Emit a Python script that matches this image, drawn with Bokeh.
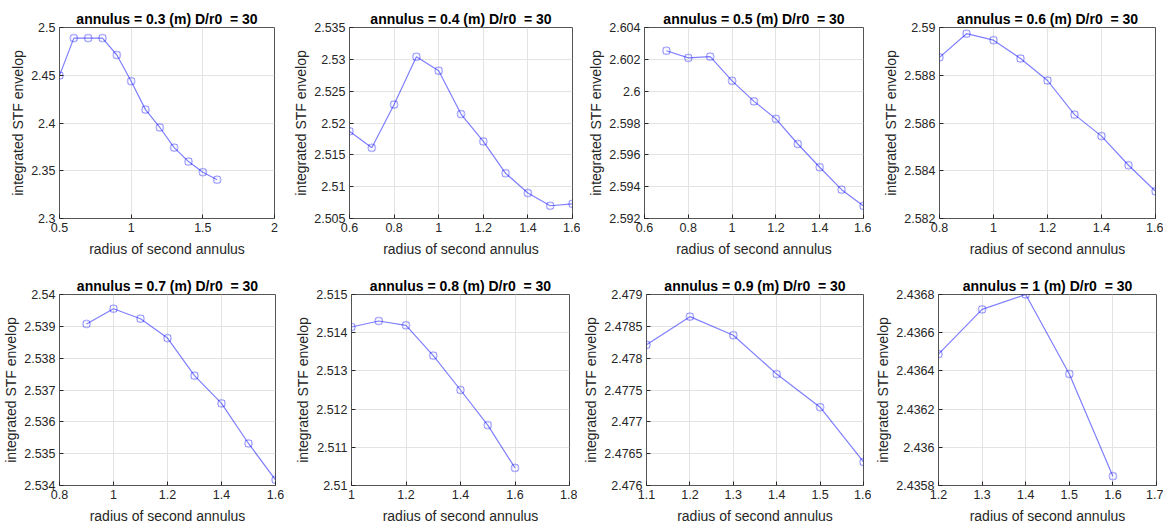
from bokeh.plotting import figure
from bokeh.models import FixedTicker, CustomJSTickFormatter, Range1d
from bokeh.layouts import row, column
from bokeh.embed import file_html
from bokeh.resources import INLINE

# ---------------- data ----------------
annulus = ["0.3", "0.4", "0.5", "0.6", "0.7", "0.8", "0.9", "1"]

x_03 = [0.5, 0.6, 0.7, 0.8, 0.9, 1.0, 1.1, 1.2, 1.3, 1.4, 1.5, 1.6]
y_03 = [2.4497, 2.4889, 2.4889, 2.4889, 2.4712, 2.4438, 2.4140, 2.3953, 2.3742, 2.3596, 2.3485, 2.3406]

x_04 = [0.6, 0.7, 0.8, 0.9, 1.0, 1.1, 1.2, 1.3, 1.4, 1.5, 1.6]
y_04 = [2.5187, 2.5161, 2.5229, 2.5304, 2.5282, 2.5214, 2.5171, 2.5121, 2.5090, 2.5070, 2.5073]

x_05 = [0.7, 0.8, 0.9, 1.0, 1.1, 1.2, 1.3, 1.4, 1.5, 1.6]
y_05 = [2.60254, 2.60209, 2.60217, 2.60065, 2.59936, 2.59826, 2.59668, 2.59522, 2.59381, 2.59279]

x_06 = [0.8, 0.9, 1.0, 1.1, 1.2, 1.3, 1.4, 1.5, 1.6]
y_06 = [2.58875, 2.58974, 2.58947, 2.58870, 2.58778, 2.58635, 2.58545, 2.58423, 2.58314]

x_07 = [0.9, 1.0, 1.1, 1.2, 1.3, 1.4, 1.5, 1.6]
y_07 = [2.539075, 2.539553, 2.539240, 2.538630, 2.537450, 2.536580, 2.535320, 2.534180]

x_08 = [1.0, 1.1, 1.2, 1.3, 1.4, 1.5, 1.6]
y_08 = [2.514150, 2.514307, 2.514194, 2.513400, 2.512500, 2.511580, 2.510460]

x_09 = [1.1, 1.2, 1.3, 1.4, 1.5, 1.6]
y_09 = [2.478210, 2.478652, 2.478360, 2.477750, 2.477230, 2.476370]

x_10 = [1.2, 1.3, 1.4, 1.5, 1.6]
y_10 = [2.436488, 2.436722, 2.436800, 2.436384, 2.435849]

# tick labels / axis limits
xticks_03 = [0.5, 1.0, 1.5, 2.0]
xticks_04 = [0.6, 0.8, 1.0, 1.2, 1.4, 1.6]
xticks_05 = [0.6, 0.8, 1.0, 1.2, 1.4, 1.6]
xticks_06 = [0.8, 1.0, 1.2, 1.4, 1.6]
xticks_07 = [0.8, 1.0, 1.2, 1.4, 1.6]
xticks_08 = [1.0, 1.2, 1.4, 1.6, 1.8]
xticks_09 = [1.1, 1.2, 1.3, 1.4, 1.5, 1.6]
xticks_10 = [1.2, 1.3, 1.4, 1.5, 1.6, 1.7]

yticks_03 = [2.3, 2.35, 2.4, 2.45, 2.5]
yticks_04 = [2.505, 2.51, 2.515, 2.52, 2.525, 2.53, 2.535]
yticks_05 = [2.592, 2.594, 2.596, 2.598, 2.6, 2.602, 2.604]
yticks_06 = [2.582, 2.584, 2.586, 2.588, 2.59]
yticks_07 = [2.534, 2.535, 2.536, 2.537, 2.538, 2.539, 2.54]
yticks_08 = [2.51, 2.511, 2.512, 2.513, 2.514, 2.515]
yticks_09 = [2.476, 2.4765, 2.477, 2.4775, 2.478, 2.4785, 2.479]
yticks_10 = [2.4358, 2.436, 2.4362, 2.4364, 2.4366, 2.4368]

xs = [x_03, x_04, x_05, x_06, x_07, x_08, x_09, x_10]
ys = [y_03, y_04, y_05, y_06, y_07, y_08, y_09, y_10]
xticks = [xticks_03, xticks_04, xticks_05, xticks_06, xticks_07, xticks_08, xticks_09, xticks_10]
yticks = [yticks_03, yticks_04, yticks_05, yticks_06, yticks_07, yticks_08, yticks_09, yticks_10]

# ---------------- layout (left border, frame width, right border) ----------------
geom_row1 = [(59, 215, 10), (65, 223, 8), (64, 219, 8), (68, 216, 8)]
geom_row2 = [(59, 216, 10), (66, 218, 8), (69, 217, 8), (67, 218, 7)]
FRAME_H = 191

FONT = "Liberation Sans"
DARK = "#262626"
fmt_code = "return String(parseFloat(tick.toFixed(6)));"


def make_panel(i, geom, top, bottom):
    left, fw, right = geom
    p = figure(frame_width=fw, frame_height=FRAME_H,
               x_range=Range1d(xticks[i][0], xticks[i][-1]),
               y_range=Range1d(yticks[i][0], yticks[i][-1]),
               output_backend="svg", toolbar_location=None,
               min_border_left=left, min_border_right=right,
               min_border_top=top, min_border_bottom=bottom)
    p.title.text = "annulus = %s (m) D/r0\u00a0 = 30" % annulus[i]
    p.title.align = "center"
    p.title.text_font = FONT
    p.title.text_font_size = "14px"
    p.title.text_font_style = "bold"
    p.title.text_color = "#000000"
    p.title.standoff = 2
    p.outline_line_color = "#555555"
    p.outline_line_width = 1
    p.background_fill_color = "white"
    p.border_fill_color = "white"

    p.xaxis.ticker = FixedTicker(ticks=xticks[i])
    p.yaxis.ticker = FixedTicker(ticks=yticks[i])
    for ax in (p.xaxis[0], p.yaxis[0]):
        ax.formatter = CustomJSTickFormatter(code=fmt_code)
        ax.axis_line_color = None
        ax.major_tick_in = 4
        ax.major_tick_out = 0
        ax.major_tick_line_color = DARK
        ax.minor_tick_line_color = None
        ax.major_label_text_font = FONT
        ax.major_label_text_font_size = "12.5px"
        ax.major_label_text_color = DARK
        ax.axis_label_text_font = FONT
        ax.axis_label_text_font_size = "14px"
        ax.axis_label_text_font_style = "normal"
        ax.axis_label_text_color = DARK
    p.xaxis.axis_label = "radius of second annulus"
    p.yaxis.axis_label = "integrated STF envelop"
    p.xaxis.major_label_standoff = 4
    p.yaxis.major_label_standoff = 4
    p.xaxis.axis_label_standoff = 6
    p.yaxis.axis_label_standoff = 2

    p.xgrid.grid_line_color = "#e3e3e3"
    p.ygrid.grid_line_color = "#e3e3e3"

    p.line(xs[i], ys[i], line_color="#0000ff", line_alpha=0.5, line_width=1.2)
    p.scatter(xs[i], ys[i], marker="circle", size=8, fill_color=None,
              line_color="#0000ff", line_alpha=0.28, line_width=1)
    p.scatter(xs[i], ys[i], marker="square", size=6, fill_color=None,
              line_color="#0000ff", line_alpha=0.22, line_width=1)
    return p


row1 = [make_panel(i, geom_row1[i], 27, 40) for i in range(4)]
row2 = [make_panel(i + 4, geom_row2[i], 35, 41) for i in range(4)]

layout = column(row(*row1, spacing=0), row(*row2, spacing=0), spacing=0)

open("out.html", "w").write(file_html(layout, INLINE, "integrated STF envelop"))
